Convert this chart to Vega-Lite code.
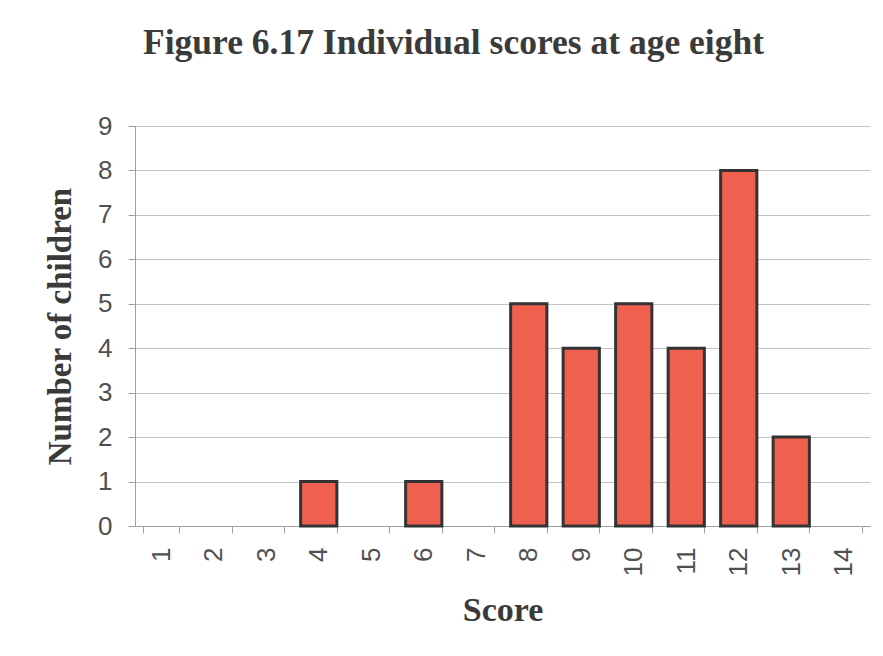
{
  "$schema": "https://vega.github.io/schema/vega-lite/v6.json",
  "autosize": "none",
  "width": 735,
  "height": 400,
  "padding": {"left": 135, "top": 126, "right": 13, "bottom": 130},
  "background": "white",
  "title": {
    "text": "Figure 6.17 Individual scores at age eight",
    "font": "Liberation Serif",
    "fontSize": 35.5,
    "fontWeight": "bold",
    "color": "#3a3a3a",
    "anchor": "middle",
    "dx": -49,
    "offset": 52
  },
  "data": {
    "values": [
      {"score": 4, "children": 1},
      {"score": 6, "children": 1},
      {"score": 8, "children": 5},
      {"score": 9, "children": 4},
      {"score": 10, "children": 5},
      {"score": 11, "children": 4},
      {"score": 12, "children": 8},
      {"score": 13, "children": 2}
    ]
  },
  "mark": {"type": "bar", "fill": "#f0604f", "stroke": "#333333", "strokeWidth": 3},
  "encoding": {
    "x": {
      "field": "score",
      "type": "ordinal",
      "title": "Score",
      "scale": {"domain": [1,2,3,4,5,6,7,8,9,10,11,12,13,14], "paddingInner": 0.31, "paddingOuter": 0.155},
      "axis": {
        "labelAngle": -90,
        "labelAlign": "right",
        "labelBaseline": "middle",
        "labelFont": "Liberation Sans",
        "labelFontSize": 26,
        "labelColor": "#505050",
        "labelPadding": 14,
        "tickBand": "extent",
        "tickSize": 7,
        "tickColor": "#a0a0a0",
        "domainColor": "#a0a0a0",
        "grid": false,
        "titleFont": "Liberation Serif",
        "titleFontSize": 34,
        "titleFontWeight": "bold",
        "titleColor": "#3a3a3a",
        "titlePadding": 18
      }
    },
    "y": {
      "field": "children",
      "type": "quantitative",
      "title": "Number of children",
      "scale": {"domain": [0, 9], "nice": false},
      "axis": {
        "values": [0,1,2,3,4,5,6,7,8,9],
        "labelFont": "Liberation Sans",
        "labelFontSize": 26,
        "labelColor": "#505050",
        "labelPadding": 16,
        "tickSize": 7,
        "tickColor": "#a0a0a0",
        "domainColor": "#a0a0a0",
        "grid": true,
        "gridColor": "#c4c4c4",
        "titleFont": "Liberation Serif",
        "titleFontSize": 33,
        "titleFontWeight": "bold",
        "titleColor": "#3a3a3a",
        "titlePadding": 20
      }
    }
  },
  "config": {"view": {"stroke": null}}
}
